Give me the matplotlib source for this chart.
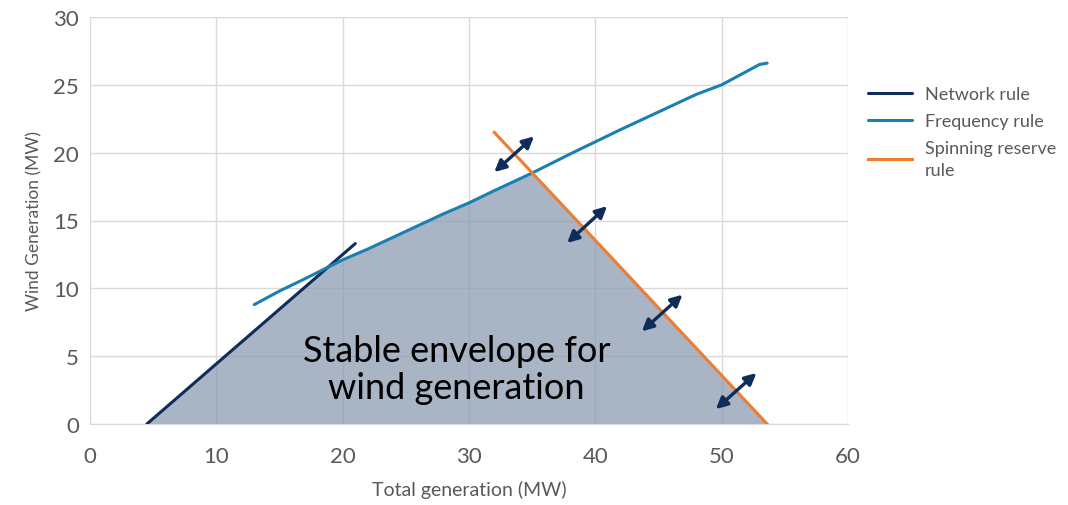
import numpy as np
import matplotlib
matplotlib.use("Agg")
import matplotlib.pyplot as plt

# ---- data ----
network_x = [4.5, 21.0]
network_y = [0.0, 13.3]

freq_x = [13.0, 15.0, 17.0, 20.0, 22.0, 25.0, 28.0, 30.0, 32.0, 35.0,
          38.0, 40.0, 42.0, 45.0, 48.0, 50.0, 52.0, 53.0, 53.6]
freq_y = [8.8, 9.8, 10.7, 12.1, 12.9, 14.2, 15.5, 16.3, 17.2, 18.5,
          19.9, 20.8, 21.7, 23.0, 24.3, 25.0, 26.0, 26.5, 26.6]

spin_x = [32.0, 53.6]
spin_y = [21.5, 0.0]

arrows = [((32.0, 18.57), (35.15, 21.2)),
          ((37.77, 13.34), (40.93, 16.06)),
          ((43.68, 6.83), (46.9, 9.53)),
          ((49.54, 1.1), (52.75, 3.76))]

x_ticks = [0, 10, 20, 30, 40, 50, 60]
y_ticks = [0, 5, 10, 15, 20, 25, 30]

c_net = "#0e2d5a"
c_freq = "#1a7fb3"
c_spin = "#ed7d31"
c_fill = "#8c9bb2"
c_text = "#595959"

plt.rcParams['font.family'] = ['Lato', 'DejaVu Sans']

fig = plt.figure(figsize=(10.68, 5.06), dpi=100)
ax = fig.add_axes([90/1068, 1-425/506, (848-90)/1068, (425-18)/506])

# envelope: minimum of the three rules
xs = np.linspace(network_x[0], spin_x[1], 2000)
slope_n = (network_y[1]-network_y[0])/(network_x[1]-network_x[0])
net_env = network_y[0] + slope_n*(xs-network_x[0])
slope_s = (spin_y[1]-spin_y[0])/(spin_x[1]-spin_x[0])
spin_env = spin_y[0] + slope_s*(xs-spin_x[0])
freq_env = np.interp(xs, freq_x, freq_y, left=1e9, right=1e9)
env = np.minimum(np.minimum(net_env, spin_env), freq_env)
env = np.clip(env, 0, None)
ax.fill_between(xs, 0, env, color=c_fill, alpha=0.75, lw=0, zorder=1.5)

ax.plot(network_x, network_y, color=c_net, lw=2.2, label="Network rule", zorder=3,
        solid_capstyle="round")
ax.plot(freq_x, freq_y, color=c_freq, lw=2.2, label="Frequency rule", zorder=3,
        solid_capstyle="round", solid_joinstyle="round")
ax.plot(spin_x, spin_y, color=c_spin, lw=2.2, label="Spinning reserve\nrule", zorder=3)

for (p0, p1) in arrows:
    ax.annotate("", xy=p1, xytext=p0,
                arrowprops=dict(arrowstyle="<|-|>", color=c_net, lw=2.4,
                                mutation_scale=17, shrinkA=0, shrinkB=0),
                zorder=4)

ax.text(29.0, 4.05, "Stable envelope for\nwind generation", ha="center", va="center",
        fontsize=26, color="black", linespacing=1.15, zorder=5)

ax.set_xlim(0, 60)
ax.set_ylim(0, 30)
ax.set_xticks(x_ticks)
ax.set_yticks(y_ticks)
ax.grid(True, color="#d9d9d9", lw=1.0, zorder=0)
ax.set_axisbelow(True)
for s in ["top", "right", "left"]:
    ax.spines[s].set_visible(False)
ax.spines["bottom"].set_color("#d9d9d9")
ax.tick_params(length=0, labelsize=16, colors=c_text, pad=8)
ax.tick_params(axis='x', pad=16)
ax.set_xlabel("Total generation (MW)", fontsize=14, color=c_text, labelpad=10)
ax.set_ylabel("Wind Generation (MW)", fontsize=12.5, color=c_text, labelpad=8)

leg = fig.legend(loc="upper left", bbox_to_anchor=(852/1068, 1-71/506), frameon=False,
                 fontsize=13, labelcolor=c_text, handlelength=2.4, handletextpad=0.75,
                 labelspacing=0.6)
leg.get_texts()[2].set_linespacing(1.45)

fig.savefig("out.png", dpi=100)
